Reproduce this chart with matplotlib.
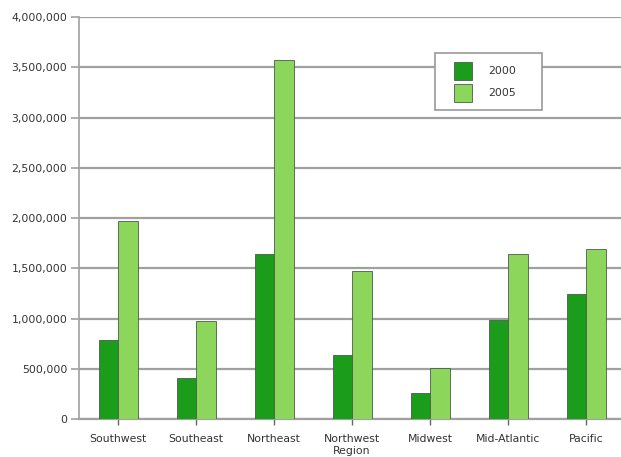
import matplotlib
matplotlib.use("Agg")
import matplotlib.pyplot as plt
from matplotlib.legend_handler import HandlerBase
from matplotlib.patches import Rectangle
import numpy as np

regions = ["Southwest", "Southeast", "Northeast", "Northwest\nRegion",
           "Midwest", "Mid-Atlantic", "Pacific"]
values_2000 = [790000, 405000, 1645000, 635000, 260000, 990000, 1240000]
values_2005 = [1975000, 975000, 3570000, 1470000, 510000, 1645000, 1695000]
series_names = ["2000", "2005"]
y_ticks = [0, 500000, 1000000, 1500000, 2000000, 2500000, 3000000, 3500000, 4000000]

dark_green = "#1b9c1b"
light_green = "#8dd65c"
edge = "#4d5a4d"
grid_gray = "#a0a0a0"
text_col = "#333333"

plt.rcParams["font.family"] = ["DejaVu Sans"]


class RightSquareHandler(HandlerBase):
    """Square legend key aligned to the right end of the handle box."""

    def create_artists(self, legend, orig_handle, xdescent, ydescent,
                       width, height, fontsize, trans):
        side = height
        r = Rectangle((width - side - xdescent, -ydescent), side, side,
                      facecolor=orig_handle.get_facecolor(),
                      edgecolor=orig_handle.get_edgecolor(),
                      linewidth=orig_handle.get_linewidth(), transform=trans)
        return [r]


W, H = 621, 457
ax_l, ax_r, ax_b, ax_t = 79, 625, 419, 17  # pixel bounds of the plot area
fig = plt.figure(figsize=(W / 100, H / 100), dpi=100)
ax = fig.add_axes([ax_l / W, (H - ax_b) / H, (ax_r - ax_l) / W, (ax_b - ax_t) / H])

x = np.arange(len(regions))
bw = 0.25
b1 = ax.bar(x - bw / 2, values_2000, bw, color=dark_green, edgecolor=edge,
            linewidth=0.6, label=series_names[0], zorder=3)
b2 = ax.bar(x + bw / 2, values_2005, bw, color=light_green, edgecolor=edge,
            linewidth=0.6, label=series_names[1], zorder=3)

ax.set_xlim(-0.5, len(regions) - 0.5)
ax.set_ylim(0, 4000000)
ax.set_yticks(y_ticks)
ax.set_yticklabels([f"{v:,}" for v in y_ticks])
ax.set_xticks(x)
ax.set_xticklabels(regions)

ax.yaxis.grid(True, color=grid_gray, linewidth=1.6, zorder=0)
ax.set_axisbelow(True)
for s in ["top", "right"]:
    ax.spines[s].set_visible(False)
ax.spines["left"].set_color(grid_gray)
ax.spines["left"].set_linewidth(1.2)
ax.spines["bottom"].set_color(grid_gray)
ax.spines["bottom"].set_linewidth(1.6)

ax.tick_params(axis="y", length=6, width=1.2, color=grid_gray,
               labelsize=7.8, labelcolor=text_col, pad=2.5)
ax.tick_params(axis="x", length=4, width=1.0, color="#666666",
               labelsize=7.8, labelcolor=text_col, pad=7)

# legend box placed in the upper right area of the plot
fs = 7.8
px = 0.72 / fs  # one pixel in font-size units
lw_ax = 107 / (ax_r - ax_l)
lh_ax = 58 / (ax_b - ax_t)
lx0 = (435 - ax_l) / (ax_r - ax_l)
ly1 = (ax_b - 53) / (ax_b - ax_t)
key_h = (18 * px - 0.245) / 0.65  # handle height giving an 18 px key
leg = ax.legend(handles=[b1.patches[0], b2.patches[0]], labels=series_names,
                handler_map={Rectangle: RightSquareHandler()},
                loc="upper left", bbox_to_anchor=(lx0, ly1 - lh_ax, lw_ax, lh_ax),
                mode="expand", frameon=True, fancybox=False, framealpha=1,
                edgecolor="#999999", fontsize=fs,
                handlelength=28 * px, handleheight=key_h,
                handletextpad=17 * px, borderpad=8.5 * px,
                labelspacing=4 * px, borderaxespad=0)
leg.get_frame().set_linewidth(1.2)
for t in leg.get_texts():
    t.set_color(text_col)

fig.savefig("out.png", dpi=100, facecolor="white")
